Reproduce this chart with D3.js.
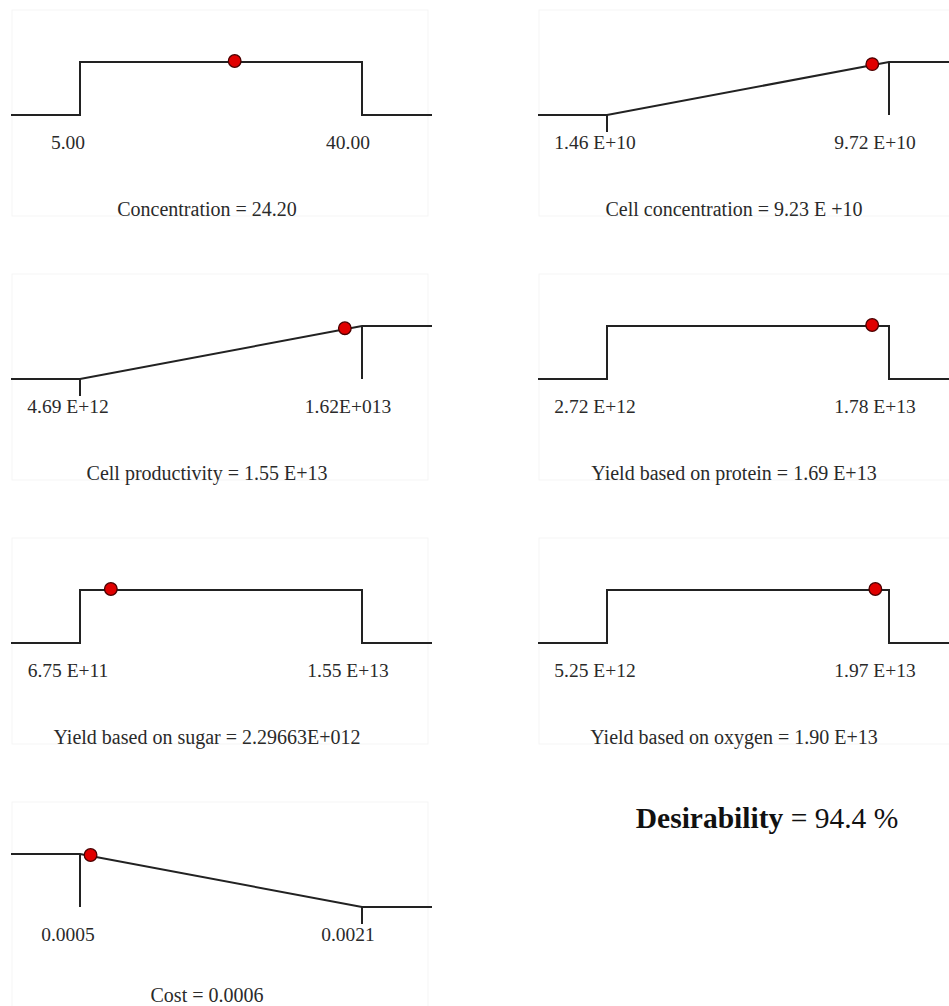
<!DOCTYPE html>
<html>
<head>
<meta charset="utf-8">
<script src="https://cdn.jsdelivr.net/npm/d3@7"></script>
<style>
  body { margin: 0; background: #fff; }
  svg { display: block; font-family: "Liberation Serif", "Times New Roman", serif; }
</style>
</head>
<body>
<div id="chart"></div>
<script>
// ramps: one entry per response
var names = ["Concentration", "Cell concentration", "Cell productivity",
  "Yield based on protein", "Yield based on sugar", "Yield based on oxygen", "Cost"];
var goals = ["range", "max", "max", "range", "range", "range", "min"];
var lowerLimits = [5, 1.46e10, 4.69e12, 2.72e12, 6.75e11, 5.25e12, 0.0005];
var upperLimits = [40, 9.72e10, 1.62e13, 1.78e13, 1.55e13, 1.97e13, 0.0021];
var currentValues = [24.20, 9.23e10, 1.55e13, 1.69e13, 2.29663e12, 1.90e13, 0.00056];
var lowerLabels = ["5.00", "1.46 E+10", "4.69 E+12", "2.72 E+12", "6.75 E+11", "5.25 E+12", "0.0005"];
var upperLabels = ["40.00", "9.72 E+10", "1.62E+013", "1.78 E+13", "1.55 E+13", "1.97 E+13", "0.0021"];
var valueLabels = ["24.20", "9.23 E  +10", "1.55 E+13", "1.69 E+13", "2.29663E+012", "1.90  E+13", "0.0006"];
var desirability = 94.4;

var width = 949, height = 1006;
var colW = 527, rowH = 264;

var svg = d3.select("#chart").append("svg")
  .attr("width", width)
  .attr("height", height);

function desir(goal, t) {
  // t = position between limits (0..1), returns d in 0..1
  if (goal === "range") return (t < 0 || t > 1) ? 0 : 1;
  if (goal === "max") return Math.max(0, Math.min(1, t));
  return Math.max(0, Math.min(1, 1 - t));
}

names.forEach(function(name, i) {
  var col = i % 2, row = Math.floor(i / 2);
  var oy = row * rowH;
  var g = svg.append("g").attr("transform", "translate(" + (col * colW) + "," + oy + ")");
  var lo = lowerLimits[i], hi = upperLimits[i], goal = goals[i];

  var x = d3.scaleLinear().domain([lo, hi]).range([80, 362]);
  var y = d3.scaleLinear().domain([0, 1]).range([115, 62]);
  var xMin = x.invert(11), xMax = x.invert(432);

  // faint frame
  g.append("rect")
    .attr("x", 12).attr("y", 10)
    .attr("width", 416).attr("height", 206)
    .attr("fill", "none")
    .attr("stroke", "#f5f5f5");

  var pts;
  if (goal === "range") {
    pts = [[xMin, 0], [lo, 0], [lo, 1], [hi, 1], [hi, 0], [xMax, 0]];
  } else if (goal === "max") {
    pts = [[xMin, 0], [lo, 0], [hi, 1], [xMax, 1]];
  } else {
    pts = [[xMin, 1], [lo, 1], [hi, 0], [xMax, 0]];
  }

  var line = d3.line()
    .x(function(d) { return x(d[0]); })
    .y(function(d) { return y(d[1]); });

  g.append("path")
    .attr("d", line(pts))
    .attr("fill", "none")
    .attr("stroke", "#222")
    .attr("stroke-width", 2);

  // limit markers for ramps
  [lo, hi].forEach(function(v) {
    if (goal === "range") return;
    var d = desir(goal, (v - lo) / (hi - lo));
    var y1 = d === 1 ? y(1) : y(0);
    var y2 = d === 1 ? y(0) : y(0) + 17;
    g.append("line")
      .attr("x1", x(v)).attr("x2", x(v))
      .attr("y1", y1).attr("y2", y2)
      .attr("stroke", "#222")
      .attr("stroke-width", 2);
  });

  // limit labels
  [[lo, lowerLabels[i], -12], [hi, upperLabels[i], -14]].forEach(function(l) {
    var t = g.append("text")
      .attr("y", 149)
      .attr("font-size", 19.5)
      .attr("fill", "#2a2a2a")
      .attr("text-anchor", "middle")
      .text(l[1]);
    var w = t.node().getComputedTextLength();
    var cx = x(l[0]) + l[2];
    if (cx - w / 2 < 12) cx = 12 + w / 2;
    t.attr("x", cx);
  });

  // title (kept inside the page for the bottom row)
  g.append("text")
    .attr("x", 207)
    .attr("y", Math.min(216, height - 4 - oy))
    .attr("font-size", 20)
    .attr("fill", "#2a2a2a")
    .attr("text-anchor", "middle")
    .text(name + " = " + valueLabels[i]);

  // current setting
  var cur = currentValues[i];
  g.append("circle")
    .attr("cx", x(cur))
    .attr("cy", y(desir(goal, (cur - lo) / (hi - lo))) - 1)
    .attr("r", 6.3)
    .attr("fill", "#e00000")
    .attr("stroke", "#4a0000")
    .attr("stroke-width", 1.3);
});

var dt = svg.append("text")
  .attr("x", 767)
  .attr("y", 828)
  .attr("font-size", 29.5)
  .attr("fill", "#111")
  .attr("text-anchor", "middle");
dt.append("tspan").attr("font-weight", "bold").text("Desirability");
dt.append("tspan").text(" = " + desirability.toFixed(1) + " %");
</script>
</body>
</html>
